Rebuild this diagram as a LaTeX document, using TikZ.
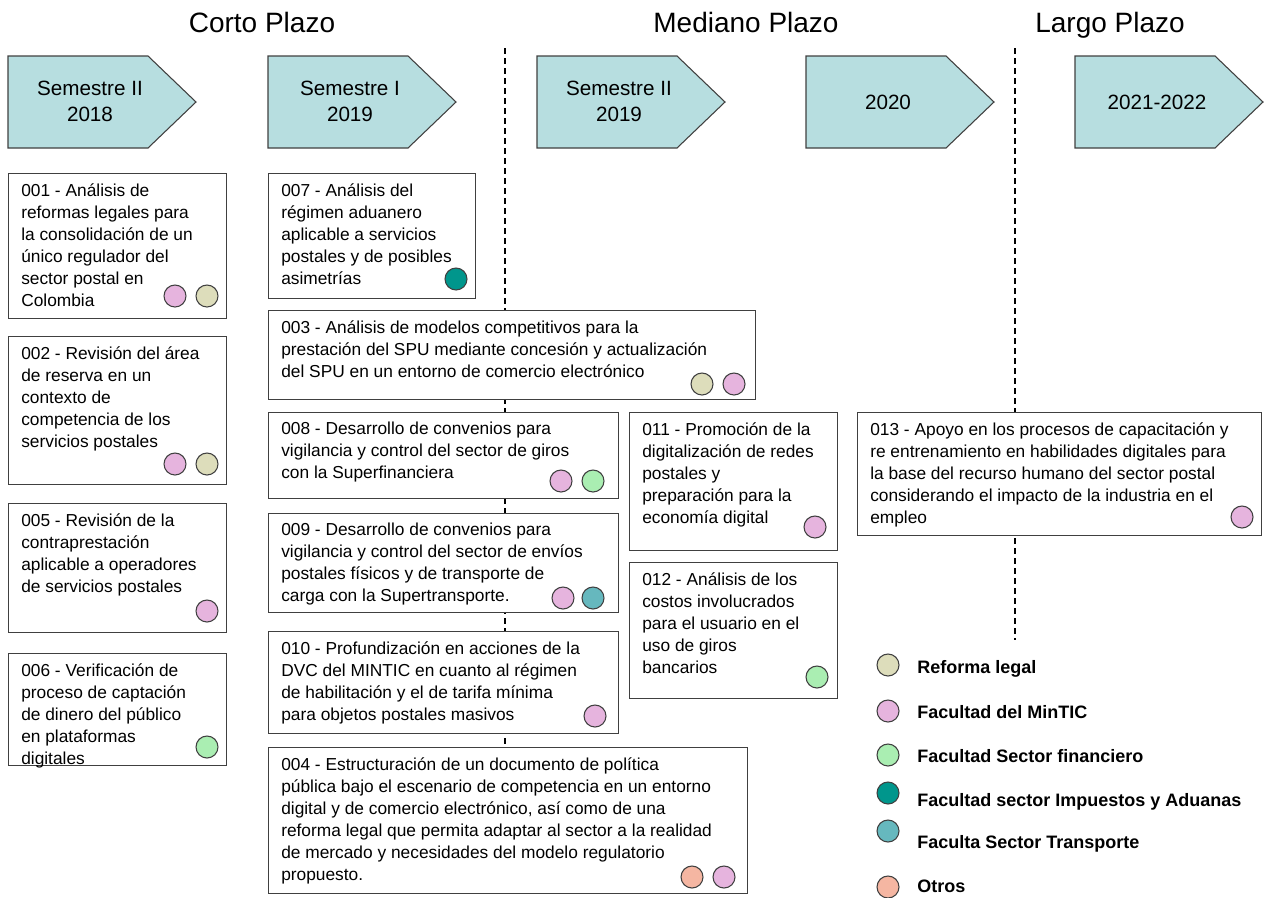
\documentclass[tikz,border=0pt]{standalone}
\usepackage{fontspec}
\setmainfont{Liberation Sans}
\definecolor{chevcyan}{RGB}{183,222,224}
\definecolor{reforma}{RGB}{221,221,187}
\definecolor{mintic}{RGB}{230,180,222}
\definecolor{financiero}{RGB}{170,238,178}
\definecolor{aduanas}{RGB}{0,150,140}
\definecolor{transporte}{RGB}{102,184,190}
\definecolor{otros}{RGB}{245,182,162}
\definecolor{edgegray}{RGB}{64,64,64}
\def\pxu{0.75pt}
\tikzset{
	plazo/.style={anchor=base,font=\fontsize{21}{25}\selectfont},
	chevron/.style={fill=chevcyan,draw=edgegray,line width=0.8pt},
	chevtxt/.style={align=center,font=\fontsize{15.5}{19.5}\selectfont},
	card/.style={draw=edgegray,fill=white,line width=0.9pt,anchor=north west,inner sep=0},
	cardtxt/.style={align=left,anchor=north west,inner sep=0,font=\fontsize{13}{16.5}\selectfont,execute at begin node=\strut},
	dot/.style={circle,draw=edgegray,line width=0.8pt,minimum size=22*\pxu,inner sep=0},
	legtxt/.style={anchor=base west,inner sep=0,font=\fontsize{13.5}{16}\selectfont\bfseries},
	divider/.style={line width=1pt,dash pattern=on 4.5pt off 3pt}
}
\begin{document}
\begin{tikzpicture}[x=0.75pt,y=-0.75pt]
			\path[use as bounding box](0,0)rectangle(1264,897);
			\node[plazo](cp)at(262,32){Corto Plazo};
			\node[plazo](mp)at(746,32){Mediano Plazo};
			\node[plazo](lp)at(1110,32){Largo Plazo};
			\draw[divider](505,48)--(505,745);
			\draw[divider](1015,48)--(1015,640);
			\draw[chevron](8,56)--++(140,0)--++(48,46)--++(-48,46)--++(-140,0)--cycle;
			\draw[chevron](268,56)--++(140,0)--++(48,46)--++(-48,46)--++(-140,0)--cycle;
			\draw[chevron](537,56)--++(140,0)--++(48,46)--++(-48,46)--++(-140,0)--cycle;
			\draw[chevron](806,56)--++(140,0)--++(48,46)--++(-48,46)--++(-140,0)--cycle;
			\draw[chevron](1075,56)--++(140,0)--++(48,46)--++(-48,46)--++(-140,0)--cycle;
			\node[chevtxt](s1)at(90,101){Semestre II\\2018};
			\node[chevtxt](s2)at(350,101){Semestre I\\2019};
			\node[chevtxt](s3)at(619,101){Semestre II\\2019};
			\node[chevtxt](s4)at(888,102){2020};
			\node[chevtxt](s5)at(1157,102){2021-2022};
			\node[card,minimum width=218*\pxu,minimum height=145*\pxu](b001)at(8,173){};
			\node[card,minimum width=218*\pxu,minimum height=148*\pxu](b002)at(8,336){};
			\node[card,minimum width=218*\pxu,minimum height=129*\pxu](b005)at(8,503){};
			\node[card,minimum width=218*\pxu,minimum height=112*\pxu](b006)at(8,653){};
			\node[card,minimum width=207*\pxu,minimum height=125*\pxu](b007)at(268,173){};
			\node[card,minimum width=487*\pxu,minimum height=89*\pxu](b003)at(268,310){};
			\node[card,minimum width=350*\pxu,minimum height=86*\pxu](b008)at(268,412){};
			\node[card,minimum width=350*\pxu,minimum height=99*\pxu](b009)at(268,513){};
			\node[card,minimum width=350*\pxu,minimum height=102*\pxu](b010)at(268,631){};
			\node[card,minimum width=479*\pxu,minimum height=146*\pxu](b004)at(268,747){};
			\node[card,minimum width=208*\pxu,minimum height=138*\pxu](b011)at(629,412){};
			\node[card,minimum width=208*\pxu,minimum height=136*\pxu](b012)at(629,562){};
			\node[card,minimum width=404*\pxu,minimum height=123*\pxu](b013)at(857,412){};
			\node[cardtxt](t001)at([shift={(13,10)}]b001.north west){001 - Análisis de\\reformas legales para\\la consolidación de un\\único regulador del\\sector postal en\\Colombia};
			\node[cardtxt](t002)at([shift={(13,10)}]b002.north west){002 - Revisión del área\\de reserva en un\\contexto de\\competencia de los\\servicios postales};
			\node[cardtxt](t005)at([shift={(13,10)}]b005.north west){005 - Revisión de la\\contraprestación\\aplicable a operadores\\de servicios postales};
			\node[cardtxt](t006)at([shift={(13,10)}]b006.north west){006 - Verificación de\\proceso de captación\\de dinero del público\\en plataformas\\digitales};
			\node[cardtxt](t007)at([shift={(13,10)}]b007.north west){007 - Análisis del\\régimen aduanero\\aplicable a servicios\\postales y de posibles\\asimetrías};
			\node[cardtxt](t003)at([shift={(13,10)}]b003.north west){003 - Análisis de modelos competitivos para la\\prestación del SPU mediante concesión y actualización\\del SPU en un entorno de comercio electrónico};
			\node[cardtxt](t008)at([shift={(13,10)}]b008.north west){008 - Desarrollo de convenios para\\vigilancia y control del sector de giros\\con la Superfinanciera};
			\node[cardtxt](t009)at([shift={(13,10)}]b009.north west){009 - Desarrollo de convenios para\\vigilancia y control del sector de envíos\\postales físicos y de transporte de\\carga con la Supertransporte.};
			\node[cardtxt](t010)at([shift={(13,10)}]b010.north west){010 - Profundización en acciones de la\\DVC del MINTIC en cuanto al régimen\\de habilitación y el de tarifa mínima\\para objetos postales masivos};
			\node[cardtxt](t004)at([shift={(13,10)}]b004.north west){004 - Estructuración de un documento de política\\pública bajo el escenario de competencia en un entorno\\digital y de comercio electrónico, así como de una\\reforma legal que permita adaptar al sector a la realidad\\de mercado y necesidades del modelo regulatorio\\propuesto.};
			\node[cardtxt](t011)at([shift={(13,10)}]b011.north west){011 - Promoción de la\\digitalización de redes\\postales y\\preparación para la\\economía digital};
			\node[cardtxt](t012)at([shift={(13,10)}]b012.north west){012 - Análisis de los\\costos involucrados\\para el usuario en el\\uso de giros\\bancarios};
			\node[cardtxt](t013)at([shift={(13,10)}]b013.north west){013 - Apoyo en los procesos de capacitación y\\re entrenamiento en habilidades digitales para\\la base del recurso humano del sector postal\\considerando el impacto de la industria en el\\empleo};
			\node[dot,fill=mintic](d001a)at(175,296){};
			\node[dot,fill=reforma](d001b)at(207,296){};
			\node[dot,fill=mintic](d002a)at(175,464){};
			\node[dot,fill=reforma](d002b)at(207,464){};
			\node[dot,fill=mintic](d005)at(207,611){};
			\node[dot,fill=financiero](d006)at(207,747){};
			\node[dot,fill=aduanas](d007)at(456,279){};
			\node[dot,fill=reforma](d003a)at(702,384){};
			\node[dot,fill=mintic](d003b)at(734,384){};
			\node[dot,fill=mintic](d008a)at(561,481){};
			\node[dot,fill=financiero](d008b)at(593,481){};
			\node[dot,fill=mintic](d009a)at(563,598){};
			\node[dot,fill=transporte](d009b)at(593,598){};
			\node[dot,fill=mintic](d010)at(595,716){};
			\node[dot,fill=otros](d004a)at(692,877){};
			\node[dot,fill=mintic](d004b)at(724,877){};
			\node[dot,fill=mintic](d011)at(815,527){};
			\node[dot,fill=financiero](d012)at(817,677){};
			\node[dot,fill=mintic](d013)at(1242,517){};
			\node[dot,fill=reforma](l1)at(888,665){};
			\node[dot,fill=mintic](l2)at(888,711){};
			\node[dot,fill=financiero](l3)at(888,755){};
			\node[dot,fill=aduanas](l4)at(888,793){};
			\node[dot,fill=transporte](l5)at(888,831){};
			\node[dot,fill=otros](l6)at(888,887){};
			\node[legtxt](l1t)at(917,673){Reforma legal};
			\node[legtxt](l2t)at(917,718){Facultad del MinTIC};
			\node[legtxt](l3t)at(917,762){Facultad Sector financiero};
			\node[legtxt](l4t)at(917,806){Facultad sector Impuestos y Aduanas};
			\node[legtxt](l5t)at(917,848){Faculta Sector Transporte};
			\node[legtxt](l6t)at(917,892){Otros};
		\end{tikzpicture}
\end{document}
